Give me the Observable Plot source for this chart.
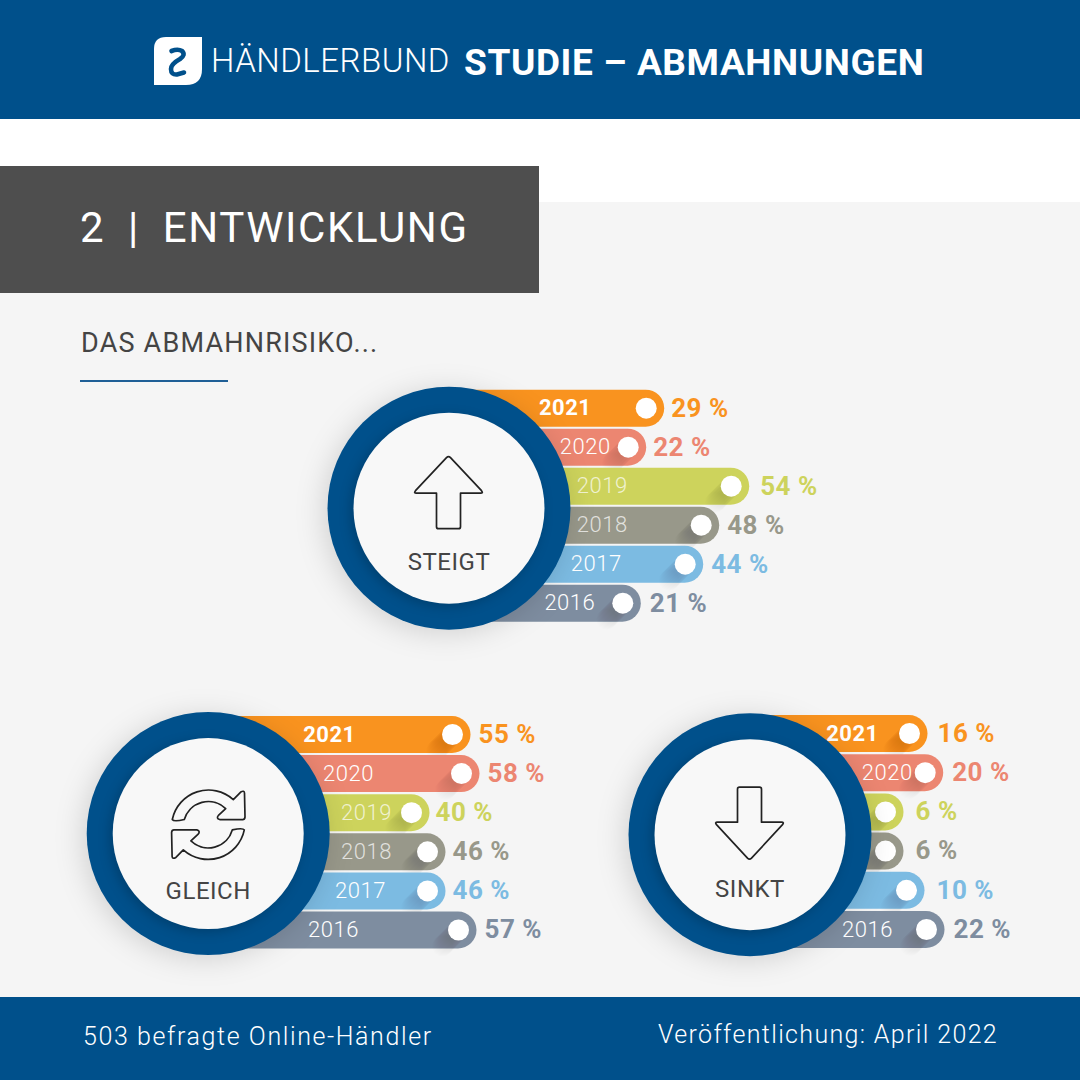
<!DOCTYPE html>
<html lang="de"><head><meta charset="utf-8">
<script src="https://cdn.jsdelivr.net/npm/d3@7"></script>
<script src="https://cdn.jsdelivr.net/npm/@observablehq/plot@0.6"></script>
<style>
html,body{margin:0;padding:0;background:#fff}
#page{position:relative;width:1080px;height:1080px;overflow:hidden;font-family:Roboto,sans-serif;background:#fff}
#page>*{position:absolute}
#page>div{white-space:nowrap}
#page>svg{left:0;top:0}
</style></head>
<body><div id="page">
<div style="left:0;top:202px;width:1080px;height:795px;background:#f5f5f5"></div>
<div style="left:0;top:0;width:1080px;height:119px;background:#00508b"></div>
<div style="left:0;top:166px;width:539px;height:127px;background:#4e4e4e"></div>
<div style="left:0;top:997px;width:1080px;height:83px;background:#00508b"></div>
<svg width="48" height="48" viewBox="0 0 48 48" style="left:154px;top:37px">
<path d="M12,0H48V32Q48,48 32,48H0V12Q0,0 12,0Z" fill="#fff"/>
<path d="M17.5,14Q24,11.5 28,14Q32,18 26,22Q17,27 17,32Q17,38 23,37.5L30,35.5" fill="none" stroke="#00508b" stroke-width="4.6" stroke-linecap="round"/>
</svg>
<div style="left:211px;top:40px;font-size:33px;line-height:42px;font-weight:300;color:#fff;letter-spacing:.5px">HÄNDLERBUND</div>
<div style="left:464px;top:41px;font-size:37px;line-height:44px;font-weight:700;color:#fff;letter-spacing:.6px">STUDIE – ABMAHNUNGEN</div>
<div style="left:80px;top:202px;font-size:42px;line-height:52px;font-weight:400;color:#fff;letter-spacing:1.6px;word-spacing:-.6px;white-space:pre">2  |  ENTWICKLUNG</div>
<div style="left:81px;top:326px;font-size:27px;line-height:34px;font-weight:400;color:#444;letter-spacing:1.2px">DAS ABMAHNRISIKO...</div>
<div style="left:80px;top:380px;width:148px;height:2px;background:#1f5f96"></div>
<div style="left:83px;top:1021px;font-size:25px;line-height:32px;font-weight:300;color:#fff;letter-spacing:1.6px">503 befragte Online-Händler</div>
<div style="left:658px;top:1019px;font-size:25px;line-height:32px;font-weight:300;color:#fff;letter-spacing:1.35px">Veröffentlichung: April 2022</div>
</div>
<script>
const years = ["2021","2020","2019","2018","2017","2016"];
const barColors = ["#f9931f","#ec8671","#cdd35c","#98988a","#7cbbe2","#7e8da0"];
const steigtValues = [29,22,54,48,44,21];
const gleichValues = [55,58,40,46,46,57];
const sinktValues  = [16,20,6,6,10,22];
const hubBlue = "#00508b";

const upArrow = "M-2,-50Q0,-52 2,-50L33,-17Q35,-14.5 32,-14.5L12,-14.5L12,19Q12,21 10,21L-10,21Q-12,21 -12,19L-12,-14.5L-32,-14.5Q-35,-14.5 -33,-17Z";
const downArrow = "M-10,-47L10,-47Q12,-47 12,-45L12,-12L32,-12Q35,-12 33,-9.5L2,24Q0,26 -2,24L-33,-9.5Q-35,-12 -32,-12L-12,-12L-12,-45Q-12,-47 -10,-47Z";
const halfCycle = "M-35.4,-13.5A37,37 0 0 1 25.6,-33.5L33,-41Q36.5,-43 36.8,-40L37.3,-16Q37,-13.5 35,-13.5L12,-13.5Q8,-14.5 11,-18L18,-24.5A25,25 0 0 0 -23.4,-13.5Q-34,-11 -35.4,-13.5Z";

const panels = [
  {label:"STEIGT", values:steigtValues, icon:[upArrow],
   xDomain:[0,21,22,29,44,48,54], xRange:[448.5,622.3,627.7,645.7,684.7,700.7,730.7],
   yRange:[407.7,602.7], hubRow:2.564, labelDy:54.4,
   yearDx:[-81,-43,-129,-99,-89,-53], valueDx:[25,25,29,26,26,27],
   shadow:[0,1,1,1,1,1]},
  {label:"GLEICH", values:gleichValues, icon:[halfCycle, halfCycle],
   xDomain:[0,40,46,55,57,58], xRange:[207.7,411,427,452,458,461],
   yRange:[734,929.5], hubRow:2.533, labelDy:57.6,
   yearDx:[-123,-113,-45,-61,-67,-125], valueDx:[26,26,24,25,25,26],
   shadow:[1,1,1,1,1,1]},
  {label:"SINKT", values:sinktValues, icon:[downArrow],
   xDomain:[0,6,10,16,20,22], xRange:[749.5,885,906,909,924.7,926],
   yRange:[733,929], hubRow:2.58, labelDy:54.4,
   yearDx:[-57,-38,null,null,null,-59], valueDx:[28,27,30,30,30,27],
   shadow:[1,1,1,1,1,1]}
];

const shadowSteps = d3.range(1,17);
const page = document.getElementById("page");

for (const p of panels) {
  const rows = p.values.map((v,i)=>({year:years[i],row:i,v,color:barColors[i],
     text:v+" %",yearDx:p.yearDx[i],valueDx:p.valueDx[i],shadow:p.shadow[i]}));
  const hub = [{x:0,y:p.hubRow,label:p.label}];
  const marks = [];
  for (const r of rows) {
    marks.push(Plot.ruleY([r],{y:"row",x1:()=>0,x2:"v",stroke:"color",strokeWidth:37,strokeLinecap:"round"}));
    if (r.shadow) for (const k of shadowSteps)
      marks.push(Plot.dot([r],{x:"v",y:"row",r:10.5,fill:"#000",fillOpacity:0.008,dx:-k,dy:k}));
  }
  for (const r of rows) {
    marks.push(Plot.dot([r],{x:"v",y:"row",r:10.5,fill:"#fff"}));
    marks.push(Plot.text([r],{x:"v",y:"row",text:"text",dx:r.valueDx,textAnchor:"start",fill:"color",
       fontSize:26,fontWeight:700}));
    if (r.yearDx!==null) marks.push(Plot.text([r],{x:"v",y:"row",text:"year",dx:r.yearDx,fill:"#fff",
       fillOpacity:(r.row===2||r.row===3)?0.72:1,fontSize:22,fontWeight:r.row===0?700:300}));
  }
  marks.push(Plot.dot(hub,{x:"x",y:"y",r:121.5,fill:hubBlue,imageFilter:"drop-shadow(-4px 4px 14px rgba(0,0,0,.14))"}));
  marks.push(Plot.dot(hub,{x:"x",y:"y",r:95.5,fill:"#f8f8f8",imageFilter:"drop-shadow(-3px 3px 6px rgba(0,0,0,.2))"}));
  marks.push(Plot.text(hub,{x:"x",y:"y",text:"label",dy:p.labelDy,fill:"#444",fontSize:24,fontWeight:400}));
  marks.push((index,{x,y})=>{
    const g=d3.create("svg:g").attr("transform",`translate(${x(0)},${y(p.hubRow)})`)
      .attr("fill","none").attr("stroke","#222").attr("stroke-width",1.7).attr("stroke-linejoin","round");
    p.icon.forEach((d,i)=>g.append("path").attr("d",d).attr("transform",i?"rotate(180 0.6 -8.3)":null));
    return g.node();
  });
  const svg = Plot.plot({
    width:1080,height:1080,margin:0,
    style:{background:"transparent",fontFamily:"Roboto,sans-serif",letterSpacing:"0.5px",overflow:"visible"},
    x:{type:"linear",domain:p.xDomain,range:p.xRange,axis:null},
    y:{type:"linear",domain:[0,5],range:p.yRange,axis:null},
    marks
  });
  page.appendChild(svg);
}
</script>
</body></html>
